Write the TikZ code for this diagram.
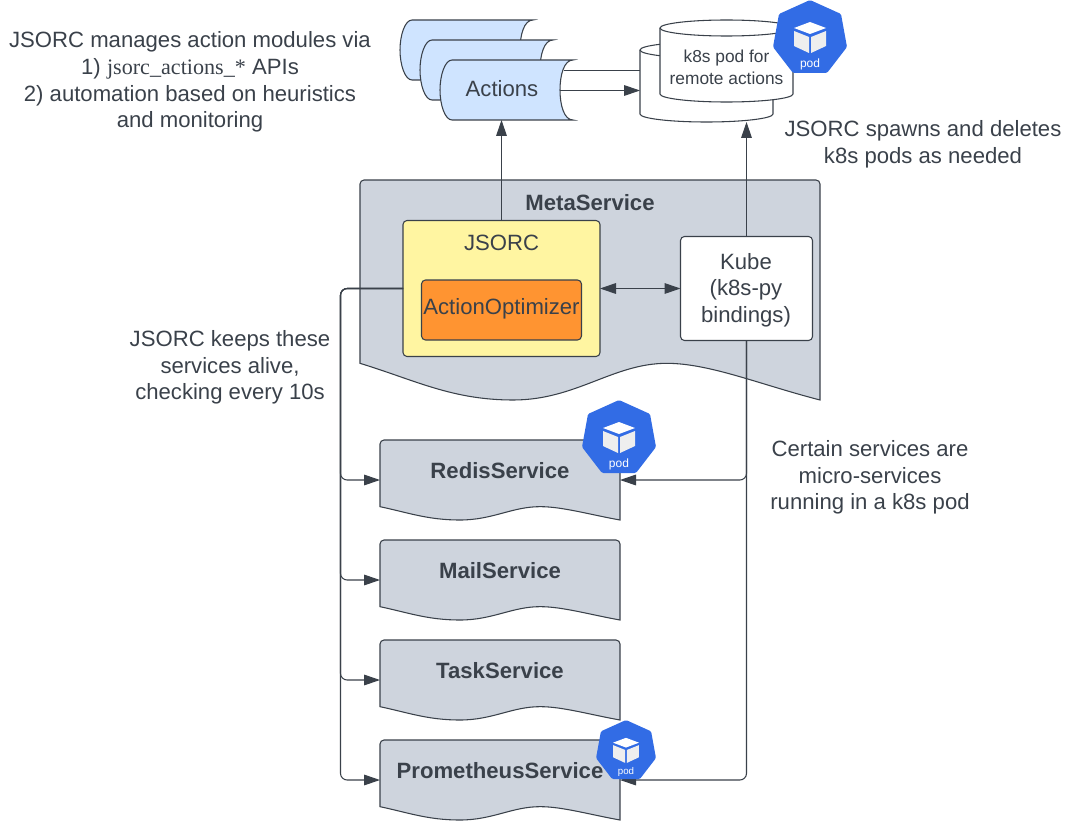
\documentclass[tikz,border=0pt]{standalone}
\usepackage{fontspec}
\setmainfont{Liberation Sans}
\newfontfamily\serifcode{Liberation Serif}
\usetikzlibrary{arrows.meta, positioning, calc}
\definecolor{inkgrey}{HTML}{3A414A}
\definecolor{docgrey}{HTML}{CED4DD}
\definecolor{scrollblue}{HTML}{CFE4FF}
\definecolor{jsorcyellow}{HTML}{FFF5A1}
\definecolor{optorange}{HTML}{FF9431}
\definecolor{podblue}{HTML}{326CE5}
\definecolor{cubegrey}{HTML}{EEEEEE}
\def\px{0.75pt}
\tikzset{
  bodytext/.style={text=inkgrey, align=center, inner sep=0pt, outer sep=0pt,
                   font=\fontsize{16.6}{20}\selectfont},
  boldtext/.style={bodytext, font=\fontsize{16.6}{20}\selectfont\bfseries},
  podtext/.style={bodytext, font=\fontsize{13}{16.5}\selectfont},
  outline/.style={draw=inkgrey, line width=0.8pt},
  anchorbox/.style={inner sep=0pt, outer sep=0pt, minimum width=#1*\px},
  solidbox/.style={outline, rounded corners=3pt, inner sep=0pt, outer sep=0pt},
  conn/.style={draw=inkgrey, line width=0.8pt, rounded corners=5pt},
  tip/.style={-{Triangle[length=12pt, width=8pt]}},
  bothtip/.style={{Triangle[length=12pt, width=8pt]}-{Triangle[length=12pt, width=8pt]}},
  podicon/.pic={
    \fill[podblue, rounded corners=1pt] (0,0) -- (31,14) -- (37,47) -- (17,73)
         -- (-17,73) -- (-37,47) -- (-31,14) -- cycle;
    \fill[white] (-16,28) -- (0,22) -- (16,28) -- (0,34) -- cycle;
    \fill[cubegrey] (-16,31) -- (-1,37) -- (-1,53) -- (-16,46) -- cycle;
    \fill[cubegrey] (1,37) -- (16,31) -- (16,46) -- (1,53) -- cycle;
    \node[text=white, transform shape, inner sep=0pt, font=\fontsize{9}{10}\selectfont] at (0,64) {pod};
  }
}
% document outline: x, y, width, height in pixels
\newcommand{\docoutline}[4]{
  \begin{scope}[shift={(#1,#2)}, x=#3*\px, y=-#4*\px]
    \draw[outline, fill=docgrey] (0,0.8333) [rounded corners=3pt] -- (0,0) -- (1,0) [sharp corners] -- (1,1)
         .. controls (0.87,0.93) and (0.76,0.8333) .. (0.667,0.8333)
         .. controls (0.55,0.8333) and (0.47,1) .. (0.333,1)
         .. controls (0.2,1) and (0.12,0.91) .. (0,0.8333) -- cycle;
  \end{scope}
}
% scroll of the action stack: shift in pixels
\newcommand{\scrollshape}[2]{
  \draw[outline, fill=scrollblue, shift={(#1,#2)}] (452,60) -- (573,60)
       .. controls (564,60) and (560,75) .. (560,90)
       .. controls (560,105) and (564,120) .. (573,120) -- (452,120)
       .. controls (445,120) and (440,105) .. (440,90)
       .. controls (440,75) and (445,60) .. (452,60) -- cycle;
}
% drum: left x, right x, top y, bottom y
\newcommand{\drum}[4]{
  \draw[outline, fill=white] (#1,#3+8) -- (#1,#4-8)
       arc[start angle=180, end angle=0, x radius={(#2-#1)/2}, y radius=8]
       -- (#2,#3+8) arc[start angle=360, end angle=180, x radius={(#2-#1)/2}, y radius=8] -- cycle;
  \draw[outline] (#1,#3+8) arc[start angle=180, end angle=0, x radius={(#2-#1)/2}, y radius=8];
}
\begin{document}
\begin{tikzpicture}[x=\px, y=-\px]
    \useasboundingbox (0,0) rectangle (1073,820);
    % MetaService and services
    \docoutline{360}{180}{460}{220}
    \docoutline{380}{440}{240}{80}
    \docoutline{380}{540}{240}{80}
    \docoutline{380}{640}{240}{80}
    \docoutline{380}{740}{240}{80}
    \node[anchorbox=240, minimum height=80*\px] (redis) at (500,480) {};
    \node[anchorbox=240, minimum height=80*\px] (mail) at (500,580) {};
    \node[anchorbox=240, minimum height=80*\px] (task) at (500,680) {};
    \node[anchorbox=240, minimum height=80*\px] (prometheus) at (500,780) {};
    \node[boldtext] (metalabel) at (590,203) {MetaService};
    % Actions
    \scrollshape{-40}{-40}
    \scrollshape{-20}{-20}
    \scrollshape{0}{0}
    \node[anchorbox=133, minimum height=60*\px] (actions) at (506.5,90) {};
    \node[bodytext] (actionslabel) at (502,88.5) {Actions};
    % Remote pods
    \drum{640}{773}{42}{122}
    \node[anchorbox=133, minimum height=80*\px] (backpod) at (706.5,82) {};
    \draw[conn] (actions.east |- 0,70.5) ++(-9,0) coordinate (scrollout) -- (scrollout -| backpod.west);
    \draw[conn, tip] (actions.east |- 0,90.5) ++(-13,0) coordinate (scrollmid) -- (scrollmid -| backpod.west);
    \drum{660}{793}{20}{102}
    \node[podtext] (frontpod) at (726.5,67) {k8s pod for\\remote actions};
    % JSORC and Kube
    \node[solidbox, fill=jsorcyellow, minimum width=197*\px, minimum height=136*\px] (jsorc) at (501.5,288.5) {};
    \node[bodytext] (jsorclabel) at (501.5,242.5) {JSORC};
    \node[solidbox, fill=optorange, minimum width=160*\px, minimum height=60*\px] (optimizer) at (501.5,310) {};
    \node[bodytext] (optimizerlabel) at (501.5,309) {ActionOptimizer};
    \node[solidbox, fill=white, minimum width=132*\px, minimum height=104*\px] (kube) at (746.5,288.5) {};
    \node[bodytext] (kubelabel) at (746,290) {Kube\\(k8s-py\\bindings)};
    % Connectors
    \draw[conn, tip] (jsorc.north) -- (jsorc.north |- actions.south);
    \draw[conn, tip] (kube.north) -- (kube.north |- backpod.south);
    \draw[conn, bothtip] (jsorc.east) -- (kube.west);
    \coordinate (trunk) at (340.5,288.5);
    \foreach \svc in {redis, mail, task, prometheus}
        \draw[conn, tip] (jsorc.west) -- (trunk) |- (\svc.west);
    \draw[conn, tip] (kube.south) |- (redis.east);
    \draw[conn, tip] (kube.south) |- (prometheus.east);
    % Pod icons
    \pic at (810,0) {podicon};
    \pic at (619,400) {podicon};
    \pic[scale=0.81] at (626,720) {podicon};
    % Service labels
    \node[boldtext] (redislabel) at (500,471) {RedisService};
    \node[boldtext] (maillabel) at (500,571) {MailService};
    \node[boldtext] (tasklabel) at (500,671) {TaskService};
    \node[boldtext] (prometheuslabel) at (500,771) {PrometheusService};
    % Notes
    \node[bodytext] (notemanage) at (190,82) {JSORC manages action modules via\\1) {\serifcode jsorc\_actions\_*} APIs\\2) automation based on heuristics\\and monitoring};
    \node[bodytext] (notespawn) at (923,144.5) {JSORC spawns and deletes\\k8s pods as needed};
    \node[bodytext] (notealive) at (230,367.5) {JSORC keeps these\\services alive,\\checking every 10s};
    \node[bodytext] (notemicro) at (870,477.5) {Certain services are\\micro-services\\running in a k8s pod};
  \end{tikzpicture}
\end{document}
